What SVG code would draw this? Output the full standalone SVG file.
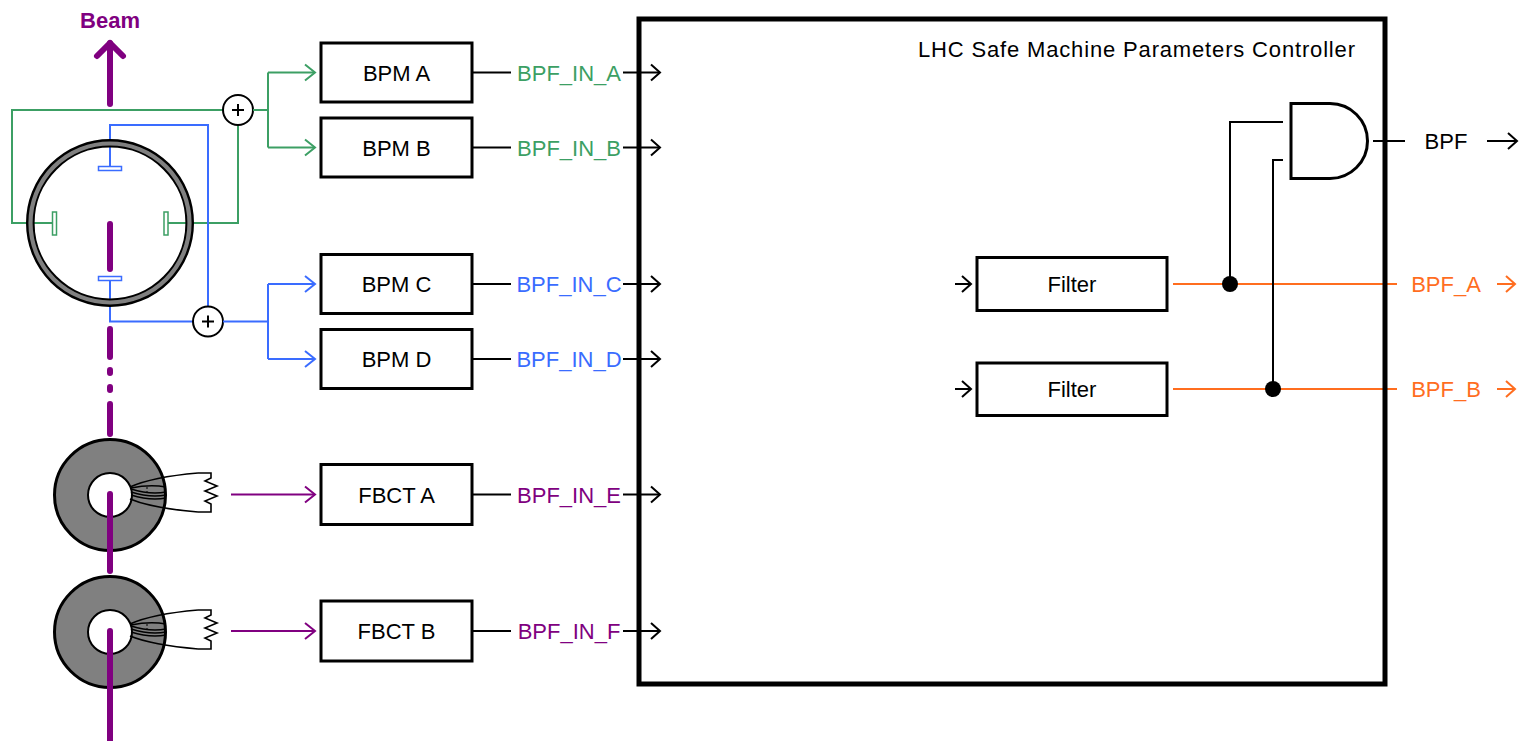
<svg xmlns="http://www.w3.org/2000/svg" width="1523" height="741" viewBox="0 0 1523 741">
<style>
.t{font-family:"Liberation Sans",Arial,sans-serif;font-size:22px}
.box{fill:#fff;stroke:#000;stroke-width:3}
.w{fill:none;stroke-width:2}
.k{stroke:#000}
.g{stroke:#3c9f64}
.b{stroke:#3a6cff}
.p{stroke:#800080}
.o{stroke:#ff6d1f}
.beam{fill:none;stroke:#800080;stroke-width:6;stroke-linecap:round}
.tg{fill:#3c9f64}.tb{fill:#3a6cff}.tp{fill:#800080}.to{fill:#ff6d1f}.tk{fill:#000}
</style>
<defs>
<marker id="aK" viewBox="-12 -10 14 20" markerWidth="14" markerHeight="20" refX="0" refY="0" orient="auto" markerUnits="userSpaceOnUse"><path d="M-9,-8 L0,0 L-9,8" fill="none" stroke="#000" stroke-width="2"/></marker>
<marker id="aG" viewBox="-12 -10 14 20" markerWidth="14" markerHeight="20" refX="0" refY="0" orient="auto" markerUnits="userSpaceOnUse"><path d="M-10,-8 L0,0 L-10,8" fill="none" stroke="#3c9f64" stroke-width="2"/></marker>
<marker id="aB" viewBox="-12 -10 14 20" markerWidth="14" markerHeight="20" refX="0" refY="0" orient="auto" markerUnits="userSpaceOnUse"><path d="M-10,-8 L0,0 L-10,8" fill="none" stroke="#3a6cff" stroke-width="2"/></marker>
<marker id="aP" viewBox="-12 -10 14 20" markerWidth="14" markerHeight="20" refX="0" refY="0" orient="auto" markerUnits="userSpaceOnUse"><path d="M-10,-8 L0,0 L-10,8" fill="none" stroke="#800080" stroke-width="2"/></marker>
<marker id="aO" viewBox="-12 -10 14 20" markerWidth="14" markerHeight="20" refX="0" refY="0" orient="auto" markerUnits="userSpaceOnUse"><path d="M-9,-8 L0,0 L-9,8" fill="none" stroke="#ff6d1f" stroke-width="2"/></marker>
<g id="fbctShape">
<circle cx="0" cy="0" r="55.5" fill="#808080" stroke="#000" stroke-width="3"/>
<circle cx="0" cy="0" r="22" fill="#fff" stroke="#000" stroke-width="2"/>
<g fill="none" stroke="#000" stroke-width="1.6">
<path d="M20,-8 Q42,-18 88,-22"/>
<path d="M20,4 Q42,13 88,17"/>
<path d="M21,-7 Q40,-11 56,-8"/>
<path d="M21,-6 Q40,0 56,-3"/>
<path d="M21,-3 Q40,3 56,0"/>
<path d="M21,0 Q40,6 56,3"/>
<path d="M37,-8 V0" stroke-dasharray="2,2" stroke-width="1"/>
<path d="M88,-22 H101 V-17 L95,-14 L107,-9 L95,-4 L107,1 L95,6 L101,9 V17 H88"/>
</g>
</g>
</defs>
<rect width="1523" height="741" fill="#fff"/>

<g id="beam">
<text class="t tp" x="110" y="28" font-size="24.5" font-weight="bold" text-anchor="middle">Beam</text>
<path class="beam" d="M110,104 V43"/>
<path class="beam" d="M97,56 L110,43 L123,56" stroke-linejoin="round"/>
<path class="beam" d="M110,224 V269"/>
<path class="beam" d="M110,329 V357 M110,370 V373 M110,387 V390 M110,404 V434"/>
</g>

<g id="bpm-wires">
<path class="w g" d="M223,110 H12 V223 H52"/>
<path class="w g" d="M168,223 H238 V125"/>
<path class="w b" d="M110,166 V125 H208 V307"/>
<path class="w b" d="M110,281 V321.5 H193"/>
</g>

<g id="pipe">
<circle cx="110" cy="223" r="79.7" fill="none" stroke="#000" stroke-width="8.6"/>
<circle cx="110" cy="223" r="79.5" fill="none" stroke="#808080" stroke-width="4.2"/>
<rect x="52.5" y="212" width="4" height="23" fill="#fff" stroke="#3c9f64" stroke-width="1.5"/>
<rect x="164" y="212" width="4" height="23" fill="#fff" stroke="#3c9f64" stroke-width="1.5"/>
<rect x="98.5" y="166.5" width="23" height="4" fill="#fff" stroke="#3a6cff" stroke-width="1.5"/>
<rect x="98.5" y="276.5" width="23" height="4" fill="#fff" stroke="#3a6cff" stroke-width="1.5"/>
</g>

<g id="sum-green">
<circle cx="238" cy="110" r="15" fill="#fff" stroke="#000" stroke-width="2"/>
<path d="M232,110 H244 M238,104 V116" stroke="#000" stroke-width="2"/>
</g>
<g id="sum-blue">
<circle cx="208" cy="321.5" r="15" fill="#fff" stroke="#000" stroke-width="2"/>
<path d="M202,321.5 H214 M208,315.5 V327.5" stroke="#000" stroke-width="2"/>
</g>

<g id="fbct-a">
<use href="#fbctShape" x="110" y="495"/>
<path class="beam" d="M110,494 V571"/>
</g>
<g id="fbct-b">
<use href="#fbctShape" x="110" y="632"/>
<path class="beam" d="M110,631 V745"/>
</g>

<g id="connectors">
<path class="w g" d="M253,110 H268 M268,72.5 V147.5 M268,72.5 H315" marker-end="url(#aG)"/>
<path class="w g" d="M268,147.5 H315" marker-end="url(#aG)"/>
<path class="w b" d="M223,321.5 H268 M268,284 V359 M268,284 H315" marker-end="url(#aB)"/>
<path class="w b" d="M268,359 H315" marker-end="url(#aB)"/>
<path class="w p" d="M231,494.5 H315" marker-end="url(#aP)"/>
<path class="w p" d="M231,631 H315" marker-end="url(#aP)"/>

<path class="w k" d="M473,72.5 H511"/><path class="w k" d="M623,72.5 H660" marker-end="url(#aK)"/>
<path class="w k" d="M473,147.5 H511"/><path class="w k" d="M623,147.5 H660" marker-end="url(#aK)"/>
<path class="w k" d="M473,284 H511"/><path class="w k" d="M623,284 H660" marker-end="url(#aK)"/>
<path class="w k" d="M473,359 H511"/><path class="w k" d="M623,359 H660" marker-end="url(#aK)"/>
<path class="w k" d="M473,494.5 H511"/><path class="w k" d="M623,494.5 H660" marker-end="url(#aK)"/>
<path class="w k" d="M473,631 H511"/><path class="w k" d="M623,631 H660" marker-end="url(#aK)"/>

<path class="w k" d="M955,284 H971" marker-end="url(#aK)"/>
<path class="w k" d="M955,389 H971" marker-end="url(#aK)"/>
<path class="w o" d="M1173,284 H1397"/>
<path class="w o" d="M1173,389 H1397"/>
<path class="w o" d="M1497,284 H1515" marker-end="url(#aO)"/>
<path class="w o" d="M1497,389 H1515" marker-end="url(#aO)"/>
<path class="w k" d="M1283,122 H1230 V284"/>
<path class="w k" d="M1283,160 H1273 V389"/>
<circle cx="1230" cy="284" r="8" fill="#000"/>
<circle cx="1273" cy="389" r="8" fill="#000"/>
<path class="w k" d="M1373,141 H1405"/>
<path class="w k" d="M1487,141 H1517" marker-end="url(#aK)"/>
</g>

<g id="controller">
<rect x="639" y="19" width="746" height="665" fill="none" stroke="#000" stroke-width="5"/>
<text class="t tk" x="918" y="57" font-size="24" textLength="437" lengthAdjust="spacing">LHC Safe Machine Parameters Controller</text>
</g>

<g id="bpm-a"><rect class="box" x="321" y="43" width="151" height="59"/><text class="t tk" x="396.5" y="80.5" text-anchor="middle">BPM A</text></g>
<g id="bpm-b"><rect class="box" x="321" y="118" width="151" height="59"/><text class="t tk" x="396.5" y="155.5" text-anchor="middle">BPM B</text></g>
<g id="bpm-c"><rect class="box" x="321" y="254.5" width="151" height="59"/><text class="t tk" x="396.5" y="292" text-anchor="middle">BPM C</text></g>
<g id="bpm-d"><rect class="box" x="321" y="329.5" width="151" height="59"/><text class="t tk" x="396.5" y="367" text-anchor="middle">BPM D</text></g>
<g id="fbct-a-box"><rect class="box" x="321" y="464.5" width="151" height="60"/><text class="t tk" x="396.5" y="502.5" text-anchor="middle">FBCT A</text></g>
<g id="fbct-b-box"><rect class="box" x="321" y="601" width="151" height="60"/><text class="t tk" x="396.5" y="639" text-anchor="middle">FBCT B</text></g>

<g id="labels">
<text class="t tg" x="569" y="80.5" text-anchor="middle">BPF_IN_A</text>
<text class="t tg" x="569" y="155.5" text-anchor="middle">BPF_IN_B</text>
<text class="t tb" x="569" y="292" text-anchor="middle">BPF_IN_C</text>
<text class="t tb" x="569" y="367" text-anchor="middle">BPF_IN_D</text>
<text class="t tp" x="569" y="502.5" text-anchor="middle">BPF_IN_E</text>
<text class="t tp" x="569" y="639" text-anchor="middle">BPF_IN_F</text>
<text class="t tk" x="1446" y="149" text-anchor="middle">BPF</text>
<text class="t to" x="1446" y="292" text-anchor="middle">BPF_A</text>
<text class="t to" x="1446" y="397" text-anchor="middle">BPF_B</text>
</g>

<g id="filter-a"><rect class="box" x="977" y="257.5" width="190" height="53"/><text class="t tk" x="1072" y="292" text-anchor="middle">Filter</text></g>
<g id="filter-b"><rect class="box" x="977" y="363" width="190" height="52.5"/><text class="t tk" x="1072" y="397" text-anchor="middle">Filter</text></g>

<g id="and-gate">
<path d="M1291,103.5 H1330 A37.5,37.5 0 0 1 1330,178.5 H1291 Z" fill="#fff" stroke="#000" stroke-width="3"/>
</g>
</svg>
